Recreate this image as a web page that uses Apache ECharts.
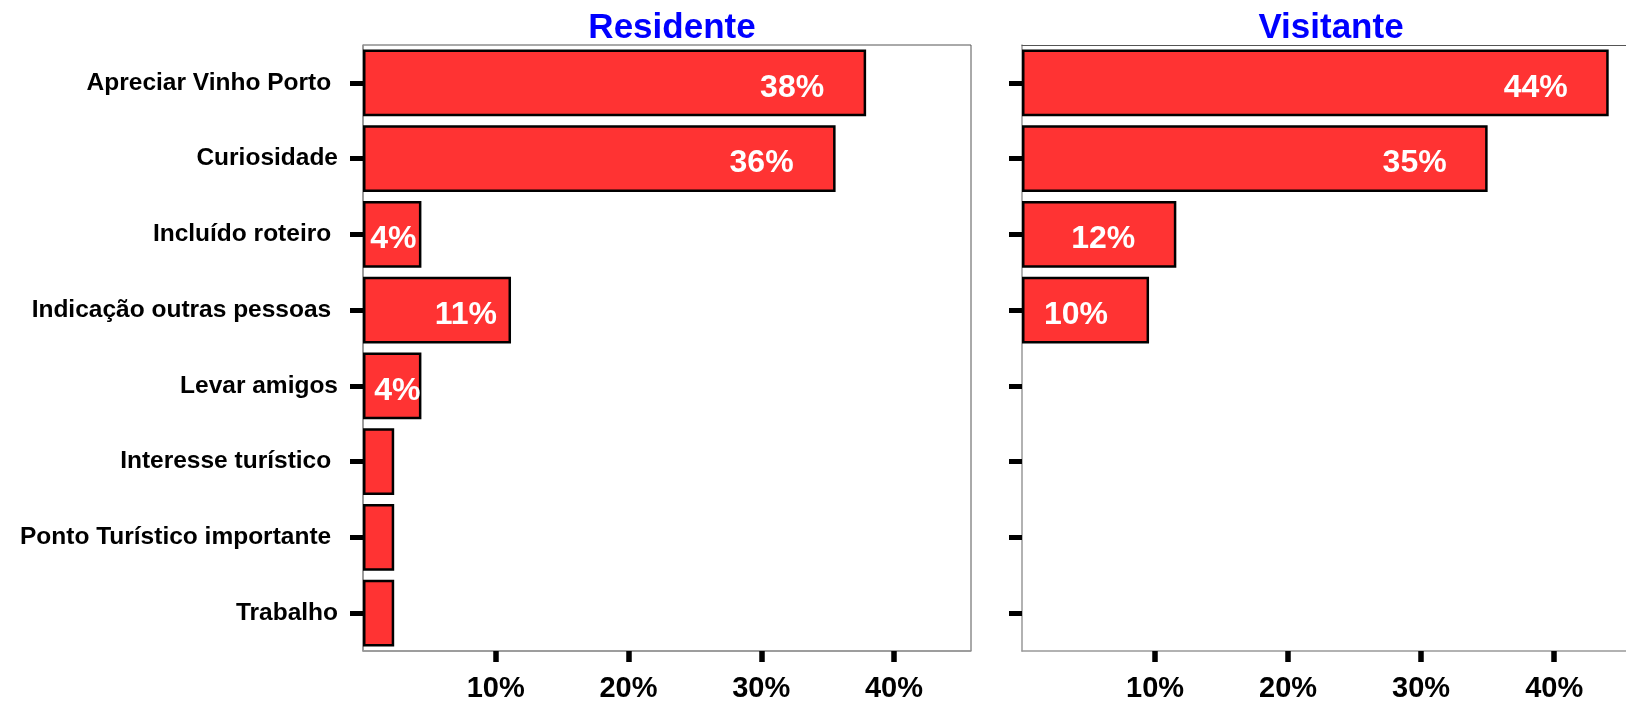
<!DOCTYPE html>
<html>
<head>
<meta charset="utf-8">
<script src="https://cdn.jsdelivr.net/npm/echarts@6/dist/echarts.min.js"></script>
<style>
html,body{margin:0;padding:0;background:#fff;}
#chart{width:1626px;height:703px;}
</style>
</head>
<body>
<div id="chart"></div>
<script>
// ---- data ----
const categories = [
  'Apreciar Vinho Porto ',
  'Curiosidade',
  'Incluído roteiro ',
  'Indicação outras pessoas ',
  'Levar amigos',
  'Interesse turístico ',
  'Ponto Turístico importante ',
  'Trabalho'
];
const panelTitles = ['Residente', 'Visitante'];
const residente = [37.9, 35.6, 4.4, 11.15, 4.4, 2.35, 2.35, 2.35];
const visitante = [44.1, 35.0, 11.6, 9.55, 0, 0, 0, 0];
const xTickValues = [10, 20, 30, 40];
const xMaxLeft = 45.8;   // full left panel
const xMaxRight = 45.4;  // right panel is cut by the picture edge

// label inset from bar end (px), styling only
const insetResidente = [42, 42, 5, 14, 1, 0, 0, 0];
const insetVisitante = [41, 41, 41, 41, 0, 0, 0, 0];

const SANS = "'Liberation Sans', Arial, sans-serif";

function buildData(values, insets) {
  return values.map((v, i) => {
    if (v === 0) return '-';
    const item = { value: v };
    if (v >= 3) {
      item.label = { show: true, distance: insets[i] };
    }
    return item;
  });
}

const grids = [
  { left: 363, top: 45, width: 608, height: 607.5, show: true, borderColor: '#555', borderWidth: 1, backgroundColor: 'transparent' },
  { left: 1022, top: 45, right: 0, height: 607.5, show: false }
];

function xAxis(gi, max) {
  return {
    type: 'value', gridIndex: gi, min: 0, max: max, interval: 10,
    axisLine: { show: true, lineStyle: { color: '#999', width: 1.5 } },
    axisTick: { show: true, customValues: xTickValues, length: 11, lineStyle: { color: '#000', width: 5.5 } },
    axisLabel: { show: true, customValues: xTickValues, formatter: v => v + '%', margin: 23,
      fontFamily: SANS, fontWeight: 'bold', fontSize: 29, color: '#000' },
    splitLine: { show: false }
  };
}

function topBorderAxis(gi, max) {
  return {
    type: 'value', gridIndex: gi, position: 'top', min: 0, max: max,
    axisLine: { show: true, onZero: false, lineStyle: { color: '#555', width: 1 } },
    axisTick: { show: false }, axisLabel: { show: false }, splitLine: { show: false }
  };
}

function yAxis(gi, showLabels) {
  return {
    type: 'category', gridIndex: gi, data: categories, inverse: true,
    axisLine: { show: true, lineStyle: { color: '#999', width: 1.5 } },
    axisTick: { show: true, alignWithLabel: true, length: 13, lineStyle: { color: '#000', width: 5 } },
    axisLabel: { show: showLabels, margin: 25, fontFamily: SANS, fontWeight: 'bold', fontSize: 24.5, color: '#000' },
    splitLine: { show: false }
  };
}

function series(gi, values, insets) {
  return {
    type: 'bar', xAxisIndex: gi, yAxisIndex: gi,
    data: buildData(values, insets),
    barCategoryGap: '12%',
    itemStyle: { color: '#FF3333', borderColor: '#000', borderWidth: 2.5 },
    label: {
      show: false, position: 'insideRight', offset: [0, 5],
      formatter: p => Math.round(p.value) + '%',
      fontFamily: SANS, fontWeight: 'bold', fontSize: 32, color: '#fff'
    },
    emphasis: { disabled: true },
    animation: false
  };
}

const chart = echarts.init(document.getElementById('chart'), null, { renderer: 'canvas' });
chart.setOption({
  animation: false,
  backgroundColor: '#fff',
  title: [
    { text: panelTitles[0], left: 667, top: 6, textAlign: 'center',
      textStyle: { fontFamily: SANS, fontWeight: 'bold', fontSize: 35, color: '#0000FF' } },
    { text: panelTitles[1], left: 1326, top: 6, textAlign: 'center',
      textStyle: { fontFamily: SANS, fontWeight: 'bold', fontSize: 35, color: '#0000FF' } }
  ],
  grid: grids,
  xAxis: [xAxis(0, xMaxLeft), xAxis(1, xMaxRight), topBorderAxis(1, xMaxRight)],
  yAxis: [yAxis(0, true), yAxis(1, false)],
  series: [series(0, residente, insetResidente), series(1, visitante, insetVisitante)]
});
</script>
</body>
</html>
